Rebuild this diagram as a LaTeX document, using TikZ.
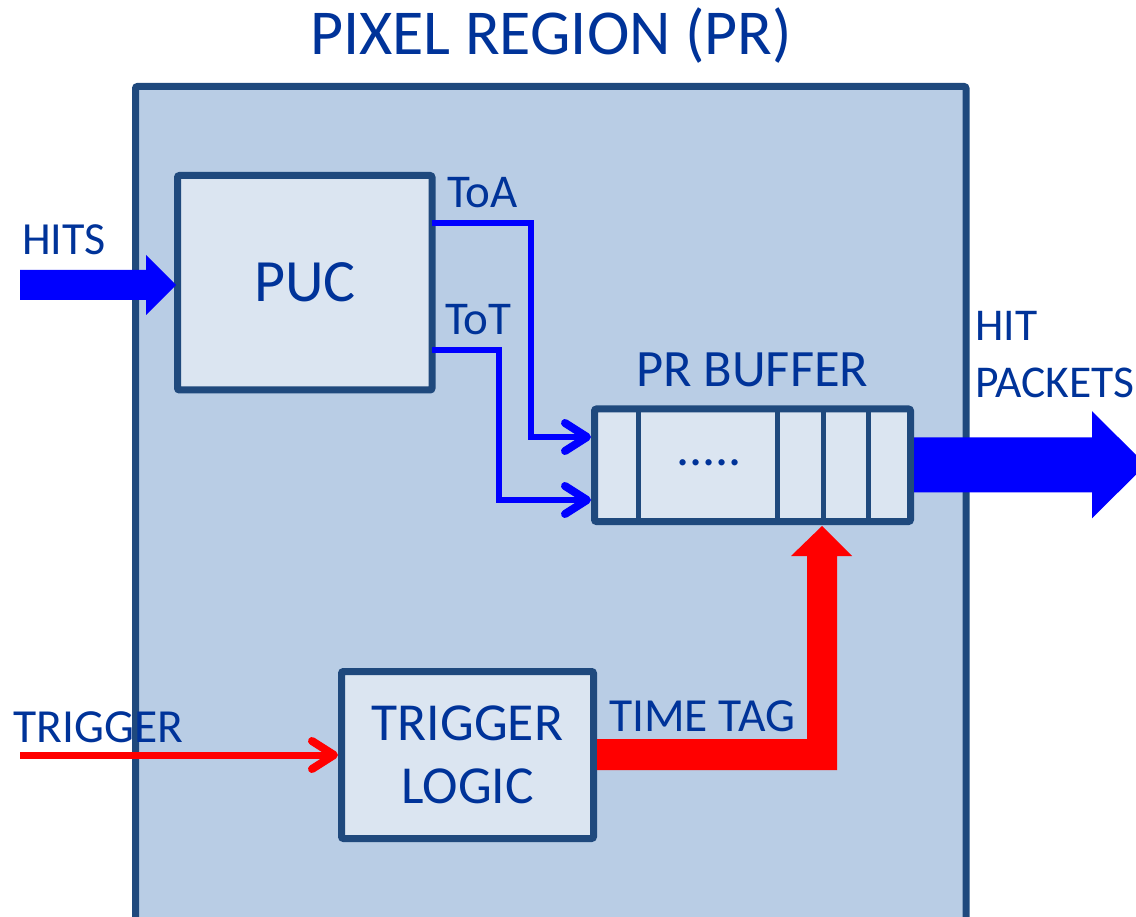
\documentclass[tikz,border=0pt]{standalone}
\usepackage{fontspec}
\setmainfont{Carlito}
\usetikzlibrary{arrows.meta,calc}
\definecolor{frame}{RGB}{31,73,125}
\definecolor{outerfill}{RGB}{185,205,229}
\definecolor{innerfill}{RGB}{219,229,241}
\definecolor{txt}{RGB}{0,51,153}
\definecolor{wire}{RGB}{0,0,255}
\definecolor{trig}{RGB}{255,0,0}
\tikzset{
  box/.style={draw=frame, fill=innerfill, line width=7pt, rounded corners=2pt, inner sep=0pt, outer sep=0pt, text=txt},
  lbl/.style={text=txt, inner sep=0pt},
  bluewire/.style={draw=wire, line width=5.5pt, -{Straight Barb[length=22pt,width=28pt,line width=8pt,round]}},
  redwire/.style={draw=trig, line width=7pt, -{Straight Barb[length=22pt,width=28pt,line width=8pt,round]}},
  divider/.style={draw=frame, line width=5pt},
}
\begin{document}
\begin{tikzpicture}[x=1pt,y=-1pt]
\useasboundingbox (0,0) rectangle (1136,917);
% outer pixel region
\node[box, fill=outerfill, minimum width=830.5pt, minimum height=845pt, anchor=north west] (pr) at (135.5,86.5) {};
% title
\node[lbl, anchor=base, font=\fontsize{64}{68}\selectfont] (title) at (551,55) {PIXEL REGION (PR)};
% PUC
\node[box, minimum width=254.5pt, minimum height=214.5pt, font=\fontsize{60}{64}\selectfont] (puc) at (304.75,282.75) {PUC};
% trigger logic
\node[box, minimum width=252pt, minimum height=167pt, align=center, font=\fontsize{53.5}{63}\selectfont] (tl) at (467.5,755) {TRIGGER\\LOGIC};
% buffer
\node[box, minimum width=316pt, minimum height=112.5pt] (buf) at (752.5,465.25) {};
\foreach \xx in {638,777,823,868}{
  \draw[divider] (\xx,0 |- buf.north) -- (\xx,0 |- buf.south);
}
\node[lbl, font=\fontsize{52}{56}\selectfont] (dots) at (709,463) {.....};
% labels
\node[lbl, anchor=base west, font=\fontsize{46}{50}\selectfont] (hits) at (22,255) {HITS};
\node[lbl, anchor=base west, font=\fontsize{47}{50}\selectfont] (toa) at (447,208) {ToA};
\node[lbl, anchor=base west, font=\fontsize{47}{50}\selectfont] (tot) at (445,335) {ToT};
\node[lbl, anchor=base west, font=\fontsize{52.5}{56}\selectfont] (buflbl) at (636,387) {PR BUFFER};
\node[lbl, anchor=base west, font=\fontsize{45.5}{48}\selectfont] (hit) at (975,341) {HIT};
\node[lbl, anchor=base west, font=\fontsize{45.5}{48}\selectfont] (packets) at (975,398) {PACKETS};
\node[lbl, anchor=base west, font=\fontsize{47.5}{50}\selectfont] (timetag) at (609,731) {TIME TAG};
\node[lbl, anchor=base west, font=\fontsize{47.5}{50}\selectfont] (trigger) at (13,742) {TRIGGER};
% coordinates for free ends
\coordinate (trigin) at (20,755);
% HITS fat arrow
\fill[wire] ($(puc.west)+(-1.5,2.25)$) -- ++(-30,-30) -- ++(0,15) -- ++(-126,0) -- ++(0,30) -- ++(126,0) -- ++(0,15) -- cycle;
% output fat arrow
\fill[wire] ($(buf.east)+(3.5,-28)$) -- ++(178,0) -- ++(0,-26) -- ++(54,53.5) -- ++(-54,53.5) -- ++(0,-26) -- ++(-178,0) -- cycle;
% ToA / ToT wires
\draw[bluewire] (puc.east |- 0,223) -- (531,223) |- ([xshift=-3.5pt]buf.west |- 0,437);
\draw[bluewire] (puc.east |- 0,350) -- (499,350) |- ([xshift=-3.5pt]buf.west |- 0,500);
% trigger input
\draw[redwire] (trigin) -- ([xshift=-3.5pt]tl.west);
% time tag fat arrow
\fill[trig] ([xshift=3.5pt]tl.east |- 0,739) -- (807,739) -- (807,556) -- (791,556) -- ($(buf.south)+(69.5,4.5)$) -- (852,556) -- (837,556) -- (837,770) -- ([xshift=3.5pt]tl.east |- 0,770) -- cycle;
\end{tikzpicture}
\end{document}
